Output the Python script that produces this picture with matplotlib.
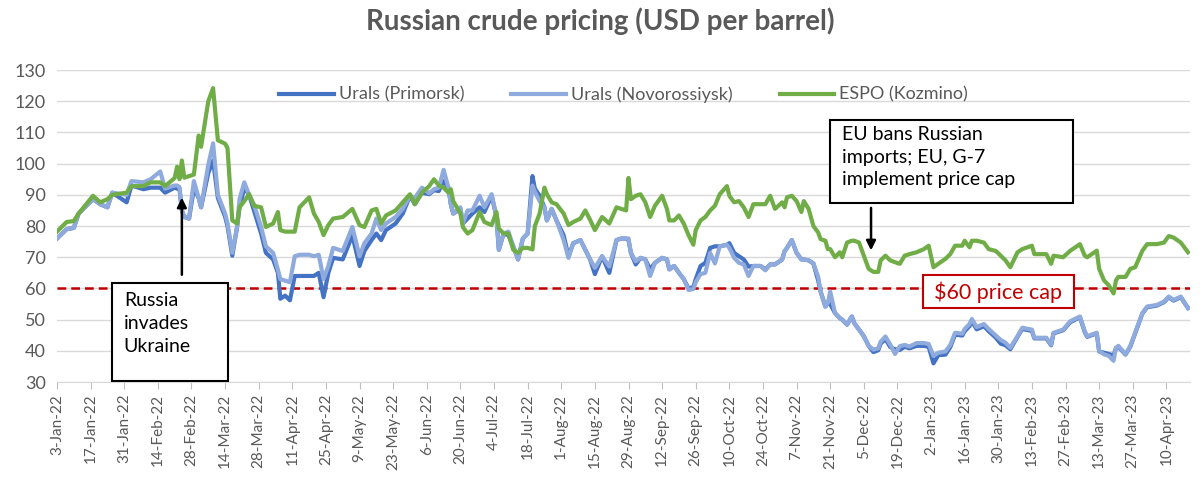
import matplotlib.pyplot as plt
import matplotlib.patches as mpatches
import pandas as pd

plt.rcParams["font.family"] = ["Lato", "DejaVu Sans"]

# readings taken off the chart (USD per barrel)
dates = [
    "2022-01-03", "2022-01-07", "2022-01-10", "2022-01-12", "2022-01-18", "2022-01-21",
    "2022-01-24", "2022-01-26", "2022-02-01", "2022-02-03", "2022-02-08", "2022-02-11",
    "2022-02-15", "2022-02-17", "2022-02-21", "2022-02-22", "2022-02-23", "2022-02-24",
    "2022-02-25", "2022-02-27", "2022-03-01", "2022-03-03", "2022-03-04", "2022-03-07",
    "2022-03-09", "2022-03-11", "2022-03-14", "2022-03-15", "2022-03-17", "2022-03-19",
    "2022-03-20", "2022-03-22", "2022-03-24", "2022-03-26", "2022-03-29", "2022-03-31",
    "2022-04-03", "2022-04-05", "2022-04-06", "2022-04-08", "2022-04-10", "2022-04-12",
    "2022-04-14", "2022-04-18", "2022-04-20", "2022-04-22", "2022-04-24", "2022-04-26",
    "2022-04-28", "2022-05-02", "2022-05-06", "2022-05-09", "2022-05-11", "2022-05-14",
    "2022-05-16", "2022-05-18", "2022-05-20", "2022-05-24", "2022-05-27", "2022-05-30",
    "2022-06-01", "2022-06-04", "2022-06-07", "2022-06-09", "2022-06-11", "2022-06-13",
    "2022-06-15", "2022-06-16", "2022-06-17", "2022-06-20", "2022-06-21", "2022-06-23",
    "2022-06-25", "2022-06-28", "2022-06-30", "2022-07-03", "2022-07-05", "2022-07-06",
    "2022-07-08", "2022-07-10", "2022-07-12", "2022-07-14", "2022-07-16", "2022-07-18",
    "2022-07-20", "2022-07-21", "2022-07-23", "2022-07-25", "2022-07-26", "2022-07-28",
    "2022-07-30", "2022-08-02", "2022-08-04", "2022-08-06", "2022-08-09", "2022-08-11",
    "2022-08-13", "2022-08-15", "2022-08-18", "2022-08-21", "2022-08-24", "2022-08-26",
    "2022-08-28", "2022-08-29", "2022-08-30", "2022-09-01", "2022-09-03", "2022-09-05",
    "2022-09-07", "2022-09-09", "2022-09-12", "2022-09-14", "2022-09-15", "2022-09-17",
    "2022-09-19", "2022-09-21", "2022-09-23", "2022-09-25", "2022-09-26", "2022-09-28",
    "2022-09-30", "2022-10-02", "2022-10-04", "2022-10-06", "2022-10-09", "2022-10-10",
    "2022-10-12", "2022-10-14", "2022-10-16", "2022-10-18", "2022-10-20", "2022-10-23",
    "2022-10-25", "2022-10-27", "2022-10-29", "2022-11-01", "2022-11-02", "2022-11-03",
    "2022-11-05", "2022-11-07", "2022-11-09", "2022-11-10", "2022-11-12", "2022-11-14",
    "2022-11-16", "2022-11-17", "2022-11-19", "2022-11-20", "2022-11-21", "2022-11-23",
    "2022-11-25", "2022-11-26", "2022-11-28", "2022-11-30", "2022-12-01", "2022-12-03",
    "2022-12-05", "2022-12-07", "2022-12-09", "2022-12-11", "2022-12-12", "2022-12-14",
    "2022-12-16", "2022-12-18", "2022-12-20", "2022-12-22", "2022-12-24", "2022-12-27",
    "2022-12-30", "2023-01-01", "2023-01-03", "2023-01-05", "2023-01-08", "2023-01-10",
    "2023-01-12", "2023-01-15", "2023-01-16", "2023-01-18", "2023-01-19", "2023-01-21",
    "2023-01-24", "2023-01-26", "2023-01-29", "2023-01-31", "2023-02-02", "2023-02-04",
    "2023-02-07", "2023-02-09", "2023-02-13", "2023-02-14", "2023-02-16", "2023-02-19",
    "2023-02-21", "2023-02-22", "2023-02-26", "2023-03-01", "2023-03-05", "2023-03-07",
    "2023-03-08", "2023-03-12", "2023-03-13", "2023-03-15", "2023-03-17", "2023-03-19",
    "2023-03-20", "2023-03-21", "2023-03-24", "2023-03-26", "2023-03-28", "2023-03-31",
    "2023-04-02", "2023-04-06", "2023-04-09", "2023-04-11", "2023-04-13", "2023-04-16",
    "2023-04-19",
]

urals_primorsk = [
    76, 79, 79.4, 84, 88.6, 87, 86, 90.7, 87.6, 93, 91.8, 92.3,
    92.3, 90.7, 92.3, 92, 92, 85, 82.9, 82.4, 92, 89, 86, 97,
    101, 89, 83, 80, 70.5, 79.7, 86, 92.3, 90, 85, 77.6, 71.4,
    69.3, 65, 56.7, 57.7, 56.2, 64, 64, 64, 64, 65, 57.2, 65,
    69.8, 69.3, 77, 67.2, 72, 75.5, 77.6, 75.5, 78.7, 80.8, 84, 89.7,
    87, 90.7, 90.2, 91.5, 91.2, 94.4, 92.3, 87, 84, 85.5, 80.8, 82.4,
    84, 86, 84.5, 89.7, 83, 72.4, 77.6, 77, 73.5, 69.3, 76, 77.6,
    96, 92, 89.7, 86, 81.8, 85.5, 81.8, 77, 70.3, 74.5, 75.5, 72.4,
    69.3, 64.6, 70.3, 65, 75.5, 76, 76, 75.5, 71.4, 67.7, 69.8, 69.3,
    66.1, 68.2, 69.8, 69.3, 66.1, 67.2, 65, 63, 60, 60.4, 63, 67.2,
    68.2, 73, 73.5, 73.5, 74, 74.5, 71.4, 70.3, 69.3, 67, 67.2, 67.2,
    66.1, 67.7, 67.7, 69.3, 71.9, 73, 75.5, 71.4, 69.3, 69.3, 69, 68,
    62.5, 59, 54.2, 55.3, 55, 52.1, 50.5, 50, 48.4, 51, 48.9, 46.8,
    44.7, 41.6, 39.6, 40.2, 42.3, 43.8, 41.2, 40.5, 40.3, 41.3, 40.8, 41.6,
    41.6, 41.3, 36, 38.6, 38.8, 41.2, 45.2, 44.9, 46.3, 47.9, 49.5, 46.9,
    47.9, 46.3, 44.2, 42.3, 41.8, 40.5, 44.5, 47, 46.4, 44, 44, 44,
    41.8, 45.6, 46.6, 49.2, 50.8, 46, 44.5, 45.6, 39.8, 39.4, 39, 38.5,
    40.8, 41.3, 38.8, 41.4, 45.6, 52, 54, 54.5, 55.6, 57.2, 56.1, 57.2,
    53.7,
]

urals_novorossiysk = [
    76, 79, 79.4, 84, 88.6, 87, 86, 90.7, 90, 94.4, 94, 95,
    97.5, 92, 93, 93, 92.5, 85, 82.9, 82.4, 94.4, 89, 86, 99.6,
    106.5, 90, 84, 81, 71.4, 79.7, 88.6, 94, 90, 87, 79.7, 73.5,
    71.4, 66, 63, 62.5, 62, 70.3, 70.8, 70.8, 70.3, 70.8, 63, 67.2,
    73, 72, 79.7, 70.3, 74.5, 77.6, 82.4, 78.7, 80.8, 82.9, 85.5, 89.7,
    89, 92.3, 90.5, 91.8, 92.3, 98, 92.3, 87, 84, 86, 80.8, 85,
    85, 89.7, 86, 90.2, 83, 72.4, 77.6, 78.2, 73.5, 69.3, 76, 77.6,
    93, 91, 88, 86, 81.8, 85.5, 81.8, 75.5, 69.8, 74.5, 75.5, 72.4,
    69.3, 66.6, 70.3, 67, 75.5, 76, 76, 76, 71.4, 68.7, 69.8, 69.3,
    64, 68.2, 69.8, 69.3, 66.1, 67.2, 65, 63, 59.5, 59.8, 62, 64.6,
    65, 71.4, 68, 73.5, 74, 73, 69.8, 68.2, 67.7, 64, 67.2, 67.2,
    65.8, 67.7, 67.7, 69.3, 71.9, 73, 75.5, 71.4, 69.3, 69.3, 69, 68,
    63.7, 59, 54.2, 55.3, 59, 52.1, 50.5, 50, 48.4, 51, 48.9, 46.8,
    44.7, 41.6, 40.4, 40.8, 42.9, 44.6, 42, 39, 41.5, 41.9, 41.4, 42.5,
    42.5, 42.2, 38.4, 39.4, 39.8, 41.9, 45.8, 45.5, 47, 48.6, 50.2, 47.6,
    48.6, 47, 44.9, 43.5, 42.6, 41, 44.7, 47.4, 46.8, 44.2, 44.2, 44.2,
    42, 45.8, 46.8, 49.5, 51, 46.3, 44.7, 45.8, 40, 38.9, 38.4, 36.8,
    41, 41.6, 38.9, 41.6, 45.8, 52.1, 54.2, 54.7, 55.8, 57.4, 56.3, 57.4,
    53.7,
]

espo_kozmino = [
    78.2, 81.3, 81.6, 84, 89.7, 87.6, 88.6, 90, 90.7, 92.8, 92.8, 94,
    94, 92.8, 95.4, 99, 95, 101, 95.5, 96, 96.5, 109, 105.4, 120,
    124.2, 107.5, 106.4, 105, 81.8, 80.8, 86, 88, 90.2, 86.5, 86, 79.7,
    80.8, 84.5, 78.7, 78.2, 78.2, 78.2, 86, 89.2, 84, 81.3, 77.1, 80.3,
    82.4, 82.9, 85.5, 80.3, 79.7, 85, 85.5, 80.8, 83.4, 85, 87.6, 90.2,
    87, 90.7, 92.8, 95, 93, 92.3, 90.7, 91.8, 88, 84, 79.7, 77.6,
    78.7, 84.5, 81.3, 80.3, 84.5, 79.2, 77.6, 77.6, 72.4, 71.4, 73, 73,
    72.5, 80, 84, 92.3, 90.2, 87.6, 87, 84, 80.3, 81.3, 82.4, 85,
    82, 78.7, 82.9, 80.8, 86, 85.5, 85, 95.4, 88.6, 89.7, 90.2, 87.6,
    82.9, 86.5, 89.7, 85.5, 81.8, 81.8, 83.4, 80.8, 77.1, 74, 78.7, 81.8,
    82.9, 85, 86.5, 90.2, 92.8, 89.7, 87.6, 88, 86, 82.9, 87, 87,
    87, 89.7, 85.5, 87.6, 86, 89.2, 89.7, 88, 84.5, 88, 85.5, 80,
    77.9, 75.8, 75.3, 72.6, 72.6, 70, 71.6, 70, 74.7, 75.3, 75.3, 74.7,
    70.5, 66.3, 65.3, 65.3, 69, 70.5, 69, 68.4, 67.9, 70.5, 71, 71.6,
    72.6, 73.7, 66.8, 67.9, 69.5, 71, 73.7, 73.7, 75.3, 73.2, 75.3, 75.3,
    74.7, 72.6, 72, 70.5, 69, 66.8, 71.6, 72.6, 73.7, 71, 71, 71,
    67.9, 70.5, 70, 72.1, 74.2, 70.5, 70, 72.1, 66.3, 62.6, 61, 58.4,
    62.6, 63.7, 63.7, 66.3, 66.8, 72.1, 74.2, 74.2, 74.7, 76.8, 76.3, 74.7,
    71.6,
]

series_labels = ["Urals (Primorsk)", "Urals (Novorossiysk)", "ESPO (Kozmino)"]
series_colors = ["#4472C4", "#8FAADC", "#70AD47"]
price_cap = 60
y_ticks = [30, 40, 50, 60, 70, 80, 90, 100, 110, 120, 130]

GREY = "#595959"


def tick_label(d):
    return f"{d.day}-{d.strftime('%b-%y')}"


def plot_prices():
    x = pd.to_datetime(dates)
    fig = plt.figure(figsize=(12, 4.83), dpi=100)
    ax = fig.add_axes([0.0475, 0.209, 0.9445, 0.646])

    for values, label, color in zip(
        [urals_primorsk, urals_novorossiysk, espo_kozmino], series_labels, series_colors
    ):
        ax.plot(x, values, color=color, lw=3, label=label, solid_joinstyle="round")

    ax.axhline(price_cap, color="#C00000", lw=1.8, ls=(0, (3.5, 2)), zorder=1)

    ax.set_ylim(30, 130)
    ax.set_yticks(y_ticks)
    ax.set_xlim(pd.Timestamp("2022-01-03"), pd.Timestamp("2023-04-20"))
    xt = pd.date_range("2022-01-03", "2023-04-10", freq="14D")
    ax.set_xticks(xt)
    ax.set_xticklabels([tick_label(d) for d in xt], rotation=90)

    ax.grid(axis="y", color="#D9D9D9", lw=1)
    ax.set_axisbelow(True)
    for s in ["top", "right", "left"]:
        ax.spines[s].set_visible(False)
    ax.spines["bottom"].set_color("#D9D9D9")
    ax.tick_params(axis="y", length=0, labelsize=13, labelcolor=GREY, pad=8)
    ax.tick_params(axis="x", length=5, color="#BFBFBF", labelsize=11, labelcolor=GREY)

    leg = ax.legend(
        loc="upper center", bbox_to_anchor=(0.5, 1.0), ncol=3, frameon=False,
        fontsize=13, handlelength=3.0, columnspacing=2.6, handletextpad=0.3,
    )
    for t in leg.get_texts():
        t.set_color(GREY)

    fig.suptitle("Russian crude pricing (USD per barrel)", fontsize=20,
                 fontweight="bold", color=GREY, y=0.985)

    # Russia invades Ukraine
    ax.add_patch(mpatches.Rectangle((0.0485, 0.003), 0.1025, 0.314, transform=ax.transAxes,
                                    facecolor="white", edgecolor="black", lw=1.5, zorder=5))
    ax.text(0.059, 0.29, "Russia\ninvades\nUkraine", transform=ax.transAxes, fontsize=14,
            va="top", ha="left", linespacing=1.45, zorder=6)
    ax.annotate("", xy=(pd.Timestamp("2022-02-24"), 90), xytext=(pd.Timestamp("2022-02-24"), 63.5),
                arrowprops=dict(arrowstyle="-|>", color="black", lw=1.8, mutation_scale=14), zorder=6)

    # EU ban / price cap
    ax.add_patch(mpatches.Rectangle((0.682, 0.574), 0.214, 0.266, transform=ax.transAxes,
                                    facecolor="white", edgecolor="black", lw=1.5, zorder=5))
    ax.text(0.693, 0.82, "EU bans Russian\nimports; EU, G-7\nimplement price cap",
            transform=ax.transAxes, fontsize=14, va="top", ha="left", linespacing=1.4, zorder=6)
    ax.annotate("", xy=(pd.Timestamp("2022-12-08"), 71.3), xytext=(pd.Timestamp("2022-12-08"), 86.7),
                arrowprops=dict(arrowstyle="-|>", color="black", lw=1.8, mutation_scale=14), zorder=6)

    # $60 cap label
    ax.add_patch(mpatches.Rectangle((0.764, 0.237), 0.133, 0.106, transform=ax.transAxes,
                                    facecolor="white", edgecolor="#C00000", lw=1.5, zorder=5))
    ax.text(0.8305, 0.288, r"\$60 price cap", transform=ax.transAxes, fontsize=15.5,
            color="#C00000", va="center", ha="center", zorder=6)

    fig.savefig("out.png", dpi=100)


def run():
    plot_prices()


if __name__ == "__main__":
    run()
